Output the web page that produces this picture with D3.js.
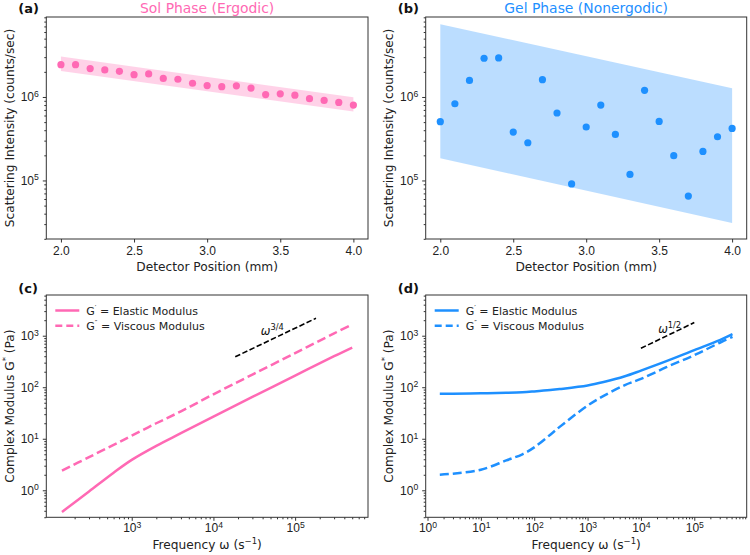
<!DOCTYPE html>
<html>
<head>
<meta charset="utf-8">
<script src="https://cdn.jsdelivr.net/npm/d3@7"></script>
<style>
  body { margin: 0; background: #fff; }
  svg { font-family: "DejaVu Sans", sans-serif; }
</style>
</head>
<body>
<svg id="chart" width="750" height="555"></svg>
<script>
// detector scan, panels (a) and (b)
const positions = [2.0, 2.1, 2.2, 2.3, 2.4, 2.5, 2.6, 2.7, 2.8, 2.9, 3.0,
                   3.1, 3.2, 3.3, 3.4, 3.5, 3.6, 3.7, 3.8, 3.9, 4.0];
const solIntensity = [2.44e6, 2.44e6, 2.19e6, 2.11e6, 2.03e6, 1.85e6, 1.89e6, 1.67e6, 1.63e6, 1.46e6, 1.37e6,
                      1.33e6, 1.36e6, 1.28e6, 1.07e6, 1.09e6, 1.05e6, 0.955e6, 0.91e6, 0.86e6, 0.80e6];
const gelIntensity = [5.06e5, 8.3e5, 1.58e6, 2.91e6, 2.94e6, 3.8e5, 2.83e5, 1.61e6, 6.43e5, 9.1e4, 4.37e5,
                      8.0e5, 3.56e5, 1.18e5, 1.2e6, 5.1e5, 1.98e5, 6.5e4, 2.23e5, 3.34e5, 4.2e5];
const bandPositions = [2.0, 4.0];
const solBandLow = [2.05e6, 6.7e5];
const solBandHigh = [3.05e6, 9.9e5];
const gelBandLow = [1.84e5, 3.1e4];
const gelBandHigh = [7.45e6, 1.27e6];
const positionTicks = [2.0, 2.5, 3.0, 3.5, 4.0];

// rheology, panels (c) and (d)
const solFreq = [140, 300, 600, 1e3, 2e3, 4e3, 1e4, 3e4, 1e5, 3e5, 5e5];
const solStorage = [0.38, 0.95, 2.2, 3.9, 7.3, 12.8, 27, 65, 168, 400, 590];
const solLoss = [2.4, 4.4, 7.6, 11.5, 20, 34, 73, 176, 460, 1110, 1660];
const gelFreq = [1.7, 3, 10, 30, 60, 100, 200, 300, 1e3, 2e3, 5e3, 1e4, 3e4, 1e5, 3e5, 5.2e5];
const gelStorage = [75, 75, 76, 78, 80, 83, 88, 92, 108, 126, 163, 210, 320, 525, 820, 1070];
const gelLoss = [2.0, 2.1, 2.5, 3.8, 5.0, 6.8, 12, 17, 44, 68, 110, 145, 245, 420, 730, 950];
const solGuideFreq = [1.85e4, 1.8e5];
const solGuideG = [390, 2180];
const gelGuideFreq = [1e4, 1e5];
const gelGuideG = [570, 1800];

const pink = "#ff69b4";
const blue = "#1e90ff";
const spine = "#333";
const tickFont = 12;
const labelFont = 12.2;

const svg = d3.select("#chart");
svg.append("rect").attr("width", 750).attr("height", 555).attr("fill", "#fff");

const boxes = {
  a: {left: 46.3, right: 368, top: 17, bottom: 239},
  b: {left: 425.7, right: 746.7, top: 17, bottom: 239},
  c: {left: 46.3, right: 368, top: 295, bottom: 517.3},
  d: {left: 425.7, right: 746.7, top: 295, bottom: 517.3}
};

// minor tick values (2..9 x 10^k) inside a log domain
function minorTicks(domain) {
  const out = [];
  for (let e = Math.floor(Math.log10(domain[0])); e <= Math.ceil(Math.log10(domain[1])); e++) {
    for (let k = 2; k <= 9; k++) {
      const v = k * Math.pow(10, e);
      if (v >= domain[0] && v <= domain[1]) out.push(v);
    }
  }
  return out;
}
function majorTicks(domain) {
  const out = [];
  for (let e = Math.ceil(Math.log10(domain[0])); e <= Math.floor(Math.log10(domain[1])); e++) out.push(Math.pow(10, e));
  return out;
}

function powLabels(sel) {
  sel.selectAll(".tick text").each(function(d) {
    const t = d3.select(this).text(null);
    t.append("tspan").text("10");
    t.append("tspan").attr("dy", "-0.5em").attr("font-size", "0.72em").text(Math.round(Math.log10(d)));
  });
}

function styleAxis(g) {
  g.select(".domain").remove();
  g.selectAll(".tick line").attr("stroke", spine);
  g.selectAll(".tick text").attr("fill", "#222").attr("font-size", tickFont);
}

function logYAxis(box, y) {
  const dom = y.domain();
  svg.append("g").attr("transform", `translate(${box.left},0)`)
    .call(d3.axisLeft(y).tickValues(minorTicks(dom)).tickSize(2).tickFormat(""))
    .call(styleAxis);
  const g = svg.append("g").attr("transform", `translate(${box.left},0)`)
    .call(d3.axisLeft(y).tickValues(majorTicks(dom)).tickSize(3.5).tickPadding(4))
    .call(styleAxis);
  powLabels(g);
}

function frame(box) {
  svg.append("rect")
    .attr("x", box.left).attr("y", box.top)
    .attr("width", box.right - box.left).attr("height", box.bottom - box.top)
    .attr("fill", "none").attr("stroke", spine).attr("stroke-width", 1);
}

function panelLetter(letter, x, y) {
  svg.append("text").attr("x", x).attr("y", y)
    .attr("font-size", 13).attr("font-weight", "bold").attr("fill", "#111")
    .text(`(${letter})`);
}

function yLabel(box, x, build) {
  const t = svg.append("text")
    .attr("transform", `translate(${x},${(box.top + box.bottom) / 2}) rotate(-90)`)
    .attr("text-anchor", "middle").attr("font-size", labelFont).attr("fill", "#222");
  build(t);
}

function xLabel(box, build) {
  const t = svg.append("text")
    .attr("x", (box.left + box.right) / 2).attr("y", box.bottom + 31.5)
    .attr("text-anchor", "middle").attr("font-size", labelFont).attr("fill", "#222");
  build(t);
}

function scatterPanel(box, values, bandLow, bandHigh, color, title, letter) {
  const x = d3.scaleLinear().domain([1.9, 4.1]).range([box.left, box.right]);
  const y = d3.scaleLog().domain([1.99e4, 9.08e6]).range([box.bottom, box.top]);

  const area = d3.area()
    .x(d => x(d))
    .y0((d, i) => y(bandLow[i]))
    .y1((d, i) => y(bandHigh[i]));
  svg.append("path").datum(bandPositions)
    .attr("d", area).attr("fill", color).attr("fill-opacity", 0.3);

  svg.append("g").selectAll("circle")
    .data(positions)
    .join("circle")
    .attr("cx", d => x(d))
    .attr("cy", (d, i) => y(values[i]))
    .attr("r", 3.6)
    .attr("fill", color);

  const gx = svg.append("g").attr("transform", `translate(0,${box.bottom})`)
    .call(d3.axisBottom(x).tickValues(positionTicks).tickSize(3.5).tickFormat(d3.format(".1f")))
    .call(styleAxis);
  gx.selectAll(".tick text").attr("dy", 0).attr("y", 15.6);
  logYAxis(box, y);
  frame(box);

  svg.append("text").attr("x", (box.left + box.right) / 2).attr("y", 12.5)
    .attr("text-anchor", "middle").attr("font-size", 13.9).attr("fill", color)
    .text(title);
  panelLetter(letter, box.left - 28, 13);
  xLabel(box, t => t.text("Detector Position (mm)"));
  yLabel(box, box.left - 32.5, t => t.text("Scattering Intensity (counts/sec)"));
}

function primeText(t, primes, rest) {
  t.append("tspan").text("G");
  t.append("tspan").attr("dy", -5).attr("font-size", 7).text(primes);
  t.append("tspan").attr("dy", 5).text(rest);
}

function rheologyPanel(box, xDomain, xMajors, freq, storage, loss, guideFreq, guideG, guideLabel, color, letter) {
  const x = d3.scaleLog().domain(xDomain).range([box.left, box.right]);
  const y = d3.scaleLog().domain([0.299, 6166]).range([box.bottom, box.top]);

  const line = d3.line()
    .x(d => x(d[0]))
    .y(d => y(d[1]))
    .curve(d3.curveCatmullRom.alpha(0.5));

  svg.append("path").datum(freq.map((f, i) => [f, storage[i]]))
    .attr("d", line).attr("fill", "none").attr("stroke", color).attr("stroke-width", 2.5);
  svg.append("path").datum(freq.map((f, i) => [f, loss[i]]))
    .attr("d", line).attr("fill", "none").attr("stroke", color).attr("stroke-width", 2.5)
    .attr("stroke-dasharray", "9,4");

  svg.append("path").datum(guideFreq.map((f, i) => [f, guideG[i]]))
    .attr("d", d3.line().x(d => x(d[0])).y(d => y(d[1])))
    .attr("fill", "none").attr("stroke", "#000").attr("stroke-width", 1.6)
    .attr("stroke-dasharray", "5.5,2.4");

  const gl = svg.append("text").attr("x", x(guideLabel.x)).attr("y", y(guideLabel.y))
    .attr("font-size", 11.5).attr("fill", "#111");
  gl.append("tspan").attr("font-style", "italic").text("ω");
  gl.append("tspan").attr("dy", -4.5).attr("font-size", 8.3).text(guideLabel.exp);

  const minors = minorTicks(xDomain).filter(v => v > xMajors[0] / 10);
  svg.append("g").attr("transform", `translate(0,${box.bottom})`)
    .call(d3.axisBottom(x).tickValues(minors).tickSize(2).tickFormat(""))
    .call(styleAxis);
  const gx = svg.append("g").attr("transform", `translate(0,${box.bottom})`)
    .call(d3.axisBottom(x).tickValues(xMajors).tickSize(3.5))
    .call(styleAxis);
  powLabels(gx);
  gx.selectAll(".tick text").attr("dy", 0).attr("y", 15);
  logYAxis(box, y);
  frame(box);

  // legend
  const lx = box.left + 9, ly = box.top + 15.5;
  [["′", " = Elastic Modulus", null], ["″", " = Viscous Modulus", "7,4"]].forEach((row, i) => {
    svg.append("line")
      .attr("x1", lx).attr("x2", lx + 24)
      .attr("y1", ly + i * 15.3).attr("y2", ly + i * 15.3)
      .attr("stroke", color).attr("stroke-width", 2.5)
      .attr("stroke-dasharray", row[2]);
    const t = svg.append("text").attr("x", lx + 31).attr("y", ly + i * 15.3 + 4)
      .attr("font-size", 11).attr("fill", "#222");
    primeText(t, row[0], row[1]);
  });

  panelLetter(letter, box.left - 28, box.top - 2);
  xLabel(box, t => {
    t.append("tspan").text("Frequency ω (s");
    t.append("tspan").attr("dy", -5).attr("font-size", 8.5).text("−1");
    t.append("tspan").attr("dy", 5).text(")");
  });
  yLabel(box, box.left - 32.5, t => {
    t.append("tspan").text("Complex Modulus G");
    t.append("tspan").attr("dy", -5).attr("font-size", 8.5).text("*");
    t.append("tspan").attr("dy", 5).text(" (Pa)");
  });
}

scatterPanel(boxes.a, solIntensity, solBandLow, solBandHigh, pink, "Sol Phase (Ergodic)", "a");
scatterPanel(boxes.b, gelIntensity, gelBandLow, gelBandHigh, blue, "Gel Phase (Nonergodic)", "b");
rheologyPanel(boxes.c, [90, 7.8e5], [1e3, 1e4, 1e5], solFreq, solStorage, solLoss,
  solGuideFreq, solGuideG, {x: 3.8e4, y: 1050, exp: "3/4"}, pink, "c");
rheologyPanel(boxes.d, [0.925, 9.6e5], [1, 10, 100, 1e3, 1e4, 1e5], gelFreq, gelStorage, gelLoss,
  gelGuideFreq, gelGuideG, {x: 2.1e4, y: 1140, exp: "1/2"}, blue, "d");
</script>
</body>
</html>
